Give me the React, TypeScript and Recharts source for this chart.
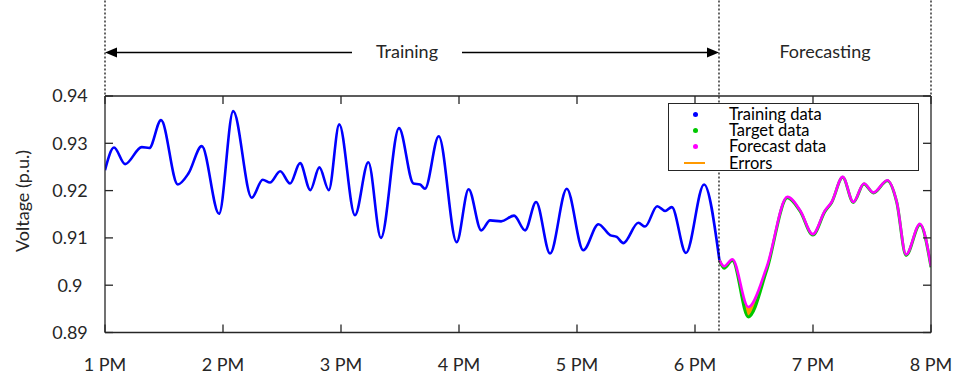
import React from 'react';
import { Line, Area, XAxis, YAxis, ReferenceLine, Legend, ComposedChart } from 'recharts';

// minutes after 1 PM
const trainTimes = [0, 4.6, 10.2, 18.7, 22.5, 28.5, 37.0, 42.4, 49.2, 58.0, 65.2, 74.6, 80.2, 83.9, 89.1, 94.1, 99.2, 104.4, 109.0, 113.8, 119.1, 127.1, 133.9, 140.3, 149.5, 156.8, 160.2, 162.7, 169.7, 178.8, 184.9, 191.3, 195.8, 201.4, 208.0, 213.6, 219.2, 226.3, 234.8, 243.2, 250.9, 256.8, 260.2, 263.6, 271.2, 274.6, 280.8, 284.8, 288.2, 295.4, 304.6, 312.4];
const trainValues = [0.9243, 0.9291, 0.9256, 0.9292, 0.9290, 0.9349, 0.9213, 0.9236, 0.9294, 0.9151, 0.9368, 0.9185, 0.9223, 0.9217, 0.9241, 0.9215, 0.9258, 0.9201, 0.9249, 0.9201, 0.9340, 0.9148, 0.9260, 0.9100, 0.9332, 0.9215, 0.9213, 0.9204, 0.9315, 0.9091, 0.9203, 0.9116, 0.9137, 0.9135, 0.9147, 0.9116, 0.9176, 0.9067, 0.9204, 0.9074, 0.9129, 0.9106, 0.9102, 0.9089, 0.9132, 0.9124, 0.9167, 0.9157, 0.9165, 0.9068, 0.9213, 0.9053];

const forecastTimes = [312.4, 314.8, 319.0, 327.1, 336.5, 347.0, 353.5, 359.9, 366.1, 369.5, 375.1, 380.5, 385.9, 390.7, 397.8, 402.6, 407.3, 414.4, 420];
const forecastValues = [0.9053, 0.9040, 0.9055, 0.8954, 0.9039, 0.9187, 0.9158, 0.9108, 0.9158, 0.9176, 0.9229, 0.9176, 0.9215, 0.9196, 0.9222, 0.9176, 0.9065, 0.9130, 0.9040];
const targetValues = [0.9053, 0.9036, 0.9052, 0.8933, 0.9032, 0.9185, 0.9156, 0.9106, 0.9156, 0.9175, 0.9228, 0.9175, 0.9214, 0.9195, 0.9221, 0.9175, 0.9063, 0.9128, 0.9038];

const xTicks = [0, 60, 120, 180, 240, 300, 360, 420];
const xTickLabels = ['1 PM', '2 PM', '3 PM', '4 PM', '5 PM', '6 PM', '7 PM', '8 PM'];
const yTicks = [0.89, 0.9, 0.91, 0.92, 0.93, 0.94];
const yTickLabels = ['0.89', '0.9', '0.91', '0.92', '0.93', '0.94'];

const splitTime = 312.2;
const topValue = 0.9602;
const arrowValue = 0.9492;

type Row = { t: number; train?: number; target?: number; forecast?: number; err?: [number, number] };

const rowsMap = new Map<number, Row>();
trainTimes.forEach((t, i) => {
  rowsMap.set(t, { ...(rowsMap.get(t) || { t }), train: trainValues[i] });
});
forecastTimes.forEach((t, i) => {
  rowsMap.set(t, {
    ...(rowsMap.get(t) || { t }),
    target: targetValues[i],
    forecast: forecastValues[i],
    err: [targetValues[i], forecastValues[i]],
  });
});
const data: Row[] = Array.from(rowsMap.values()).sort((a, b) => a.t - b.t);

const FONT = 'Lato, "Noto Sans", sans-serif';
const AX = '#262626';

const BottomTick = (props: any) => {
  const { x, y, payload } = props;
  const i = xTicks.indexOf(payload.value);
  return (
    <g>
      <line x1={x} y1={y} x2={x} y2={y - 8} stroke={AX} strokeWidth={1.3} />
      <text x={x} y={y + 38} textAnchor="middle" fontSize={18} fontFamily={FONT} fill={AX}>
        {xTickLabels[i]}
      </text>
    </g>
  );
};
const TopTick = (props: any) => {
  const { x, y } = props;
  return <line x1={x} y1={y} x2={x} y2={y + 8} stroke={AX} strokeWidth={1.3} />;
};
const LeftTick = (props: any) => {
  const { x, y, payload } = props;
  const i = yTicks.findIndex((v) => Math.abs(v - payload.value) < 1e-9);
  return (
    <g>
      <line x1={x} y1={y} x2={x + 8} y2={y} stroke={AX} strokeWidth={1.3} />
      <text x={x - 35} y={y} dy="0.36em" textAnchor="middle" fontSize={18} fontFamily={FONT} fill={AX}>
        {yTickLabels[i]}
      </text>
    </g>
  );
};
const RightTick = (props: any) => {
  const { x, y } = props;
  return <line x1={x} y1={y} x2={x - 8} y2={y} stroke={AX} strokeWidth={1.3} />;
};

const TrainingArrow = (props: any) => {
  const { x1, y1, x2 } = props;
  const mid = (x1 + x2) / 2 - 5;
  const gap = 55;
  return (
    <g>
      <line x1={x1 + 10} y1={y1} x2={mid - gap} y2={y1} stroke="#000" strokeWidth={1.5} />
      <line x1={mid + gap} y1={y1} x2={x2 - 10} y2={y1} stroke="#000" strokeWidth={1.5} />
      <polygon points={`${x1},${y1} ${x1 + 12},${y1 - 5} ${x1 + 12},${y1 + 5}`} fill="#000" />
      <polygon points={`${x2},${y1} ${x2 - 12},${y1 - 5} ${x2 - 12},${y1 + 5}`} fill="#000" />
      <text x={mid} y={y1} dy="0.3em" textAnchor="middle" fontSize={18} fontFamily={FONT} fill={AX}>
        Training
      </text>
    </g>
  );
};
const ForecastLabel = (props: any) => {
  const { x1, y1, x2 } = props;
  return (
    <text x={(x1 + x2) / 2} y={y1} dy="0.3em" textAnchor="middle" fontSize={18} fontFamily={FONT} fill={AX}>
      Forecasting
    </text>
  );
};

const legendItems = [
  { name: 'Training data', color: '#0000ff', kind: 'dot' },
  { name: 'Target data', color: '#00c800', kind: 'dot' },
  { name: 'Forecast data', color: '#ff00ff', kind: 'dot' },
  { name: 'Errors', color: '#ff9900', kind: 'line' },
];

const LegendBox = () => (
  <div
    style={{
      width: 249,
      height: 66,
      border: `1px solid ${AX}`,
      background: '#fff',
      position: 'relative',
      fontFamily: FONT,
      fontSize: 16.5,
      color: '#000',
    }}
  >
    {legendItems.map((it, i) => (
      <div key={it.name} style={{ position: 'absolute', left: 0, top: 2 + i * 16.2, height: 16, width: 249 }}>
        {it.kind === 'dot' ? (
          <div style={{ position: 'absolute', left: 24, top: 5.5, width: 5, height: 5, borderRadius: 3, background: it.color }} />
        ) : (
          <div style={{ position: 'absolute', left: 15, top: 7, width: 21, height: 2, background: it.color }} />
        )}
        <div style={{ position: 'absolute', left: 60, top: 0, height: 16, lineHeight: '16px', whiteSpace: 'nowrap' }}>{it.name}</div>
      </div>
    ))}
  </div>
);

export default function App() {
  return (
    <div style={{ position: 'absolute', left: 0, top: 0, width: 958, height: 376, background: '#fff' }}>
      <ComposedChart width={958} height={376} data={data} margin={{ top: 95, right: 26, left: 0, bottom: 0 }}>
        <XAxis
          dataKey="t"
          type="number"
          domain={[0, 420]}
          allowDataOverflow
          ticks={xTicks}
          interval={0}
          height={43.5}
          tickSize={0}
          tickMargin={0}
          tick={(p: any) => <BottomTick {...p} />}
          axisLine={{ stroke: AX, strokeWidth: 1.3 }}
          tickLine={false}
        />
        <XAxis
          xAxisId="t"
          dataKey="t"
          type="number"
          orientation="top"
          domain={[0, 420]}
          allowDataOverflow
          ticks={xTicks}
          interval={0}
          height={1}
          tickSize={0}
          tickMargin={0}
          tick={(p: any) => <TopTick {...p} />}
          axisLine={{ stroke: AX, strokeWidth: 1.3 }}
          tickLine={false}
        />
        <YAxis
          type="number"
          domain={[0.89, 0.94]}
          allowDataOverflow
          ticks={yTicks}
          interval={0}
          width={105}
          tickSize={0}
          tickMargin={0}
          tick={(p: any) => <LeftTick {...p} />}
          axisLine={{ stroke: AX, strokeWidth: 1.3 }}
          tickLine={false}
          label={{
            value: 'Voltage (p.u.)',
            position: 'insideLeft',
            content: () => (
              <text
                x={23}
                y={201}
                transform="rotate(-90 23 201)"
                textAnchor="middle"
                dy="0.35em"
                fontSize={18}
                fontFamily={FONT}
                fill={AX}
              >
                Voltage (p.u.)
              </text>
            ),
          }}
        />
        <YAxis
          yAxisId="r"
          orientation="right"
          type="number"
          domain={[0.89, 0.94]}
          allowDataOverflow
          ticks={yTicks}
          interval={0}
          width={1}
          tickSize={0}
          tickMargin={0}
          tick={(p: any) => <RightTick {...p} />}
          axisLine={{ stroke: AX, strokeWidth: 1.3 }}
          tickLine={false}
        />
        <Line
          xAxisId="t"
          yAxisId="r"
          dataKey="train"
          type="monotone"
          stroke="transparent"
          strokeWidth={0}
          dot={false}
          activeDot={false}
          legendType="none"
          isAnimationActive={false}
        />
        <Line
          dataKey="train"
          type="monotone"
          stroke="#0000ff"
          strokeWidth={2.6}
          dot={false}
          isAnimationActive={false}
          connectNulls={false}
        />
        <Line
          dataKey="target"
          type="monotone"
          stroke="#00c800"
          strokeWidth={3}
          dot={false}
          isAnimationActive={false}
        />
        <Area
          dataKey="err"
          type="monotone"
          stroke="none"
          fill="#ff9900"
          fillOpacity={1}
          isAnimationActive={false}
        />
        <Line
          dataKey="forecast"
          type="monotone"
          stroke="#ff00ff"
          strokeWidth={2.6}
          dot={false}
          isAnimationActive={false}
        />
        <ReferenceLine
          segment={[{ x: 0, y: topValue }, { x: 0, y: 0.94 }]}
          ifOverflow="visible"
          stroke="#000"
          strokeWidth={1.2}
          strokeDasharray="2 2"
        />
        <ReferenceLine
          segment={[{ x: 420, y: topValue }, { x: 420, y: 0.94 }]}
          ifOverflow="visible"
          stroke="#000"
          strokeWidth={1.2}
          strokeDasharray="2 2"
        />
        <ReferenceLine
          segment={[{ x: splitTime, y: topValue }, { x: splitTime, y: 0.89 }]}
          ifOverflow="visible"
          stroke="#000"
          strokeWidth={1.2}
          strokeDasharray="2 2"
        />
        <ReferenceLine
          segment={[{ x: 0, y: arrowValue }, { x: splitTime, y: arrowValue }]}
          ifOverflow="visible"
          shape={(p: any) => <TrainingArrow {...p} />}
        />
        <ReferenceLine
          segment={[{ x: splitTime, y: arrowValue }, { x: 420, y: arrowValue }]}
          ifOverflow="visible"
          shape={(p: any) => <ForecastLabel {...p} />}
        />
        <Legend
          verticalAlign="middle"
          layout="horizontal"
          align="center"
          wrapperStyle={{ position: 'absolute', left: 668, top: 103, width: 251, height: 68 }}
          content={() => <LegendBox />}
        />
      </ComposedChart>
    </div>
  );
}
